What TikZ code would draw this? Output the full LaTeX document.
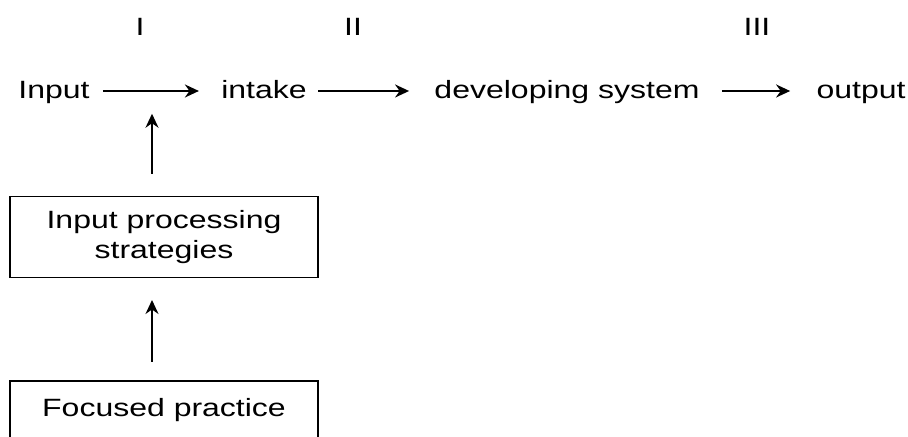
\documentclass[tikz,border=0pt]{standalone}
\usepackage{fontspec}
\setmainfont[FakeStretch=1.28]{Liberation Sans}
\usetikzlibrary{arrows.meta,positioning}

\begin{document}
\begin{tikzpicture}[x=0.5pt,y=-0.5pt,font=\fontsize{12.5}{15}\selectfont,
  lbl/.style={inner sep=0pt},
  box/.style={draw,line width=0.75pt,minimum width=154pt,align=center,inner sep=0pt},
  arr/.style={-{Stealth[length=7pt,width=6.5pt]},line width=1pt}]
\useasboundingbox (0,0) rectangle (908,437);
\clip (0,0) rectangle (908,437);
% stage marks
\node[lbl] (s1) at (140,27) {I};
\node[lbl] (s2) at (353,27) {II};
\node[lbl] (s3) at (757,27) {III};
% main row
\node[lbl,anchor=base] (in) at (54,99) {Input};
\node[lbl,anchor=base] (ik) at (264,99) {intake};
\node[lbl,anchor=base] (dv) at (567,99) {developing system};
\node[lbl,anchor=base] (ou) at (861,99) {output};
\draw[arr] ([xshift=6.5pt]in.east |- 0,91) -- ([xshift=-11pt]ik.west |- 0,91);
\draw[arr] ([xshift=5.5pt]ik.east |- 0,91) -- ([xshift=-12.5pt]dv.west |- 0,91);
\draw[arr] ([xshift=11pt]dv.east |- 0,91) -- ([xshift=-13pt]ou.west |- 0,91);
\coordinate (j) at (152,91);
% boxes below
\node[box,minimum height=40.5pt] (ips) at (164,237) {Input processing\\strategies};
\node[box,minimum height=29pt,anchor=north] (fp) at (164,380) {Focused practice};
\draw[arr] (j |- ips.north) ++(0,-22) -- ++(0,-60);
\draw[arr] (j |- fp.north) ++(0,-18) -- ++(0,-62);
\end{tikzpicture}
\end{document}
